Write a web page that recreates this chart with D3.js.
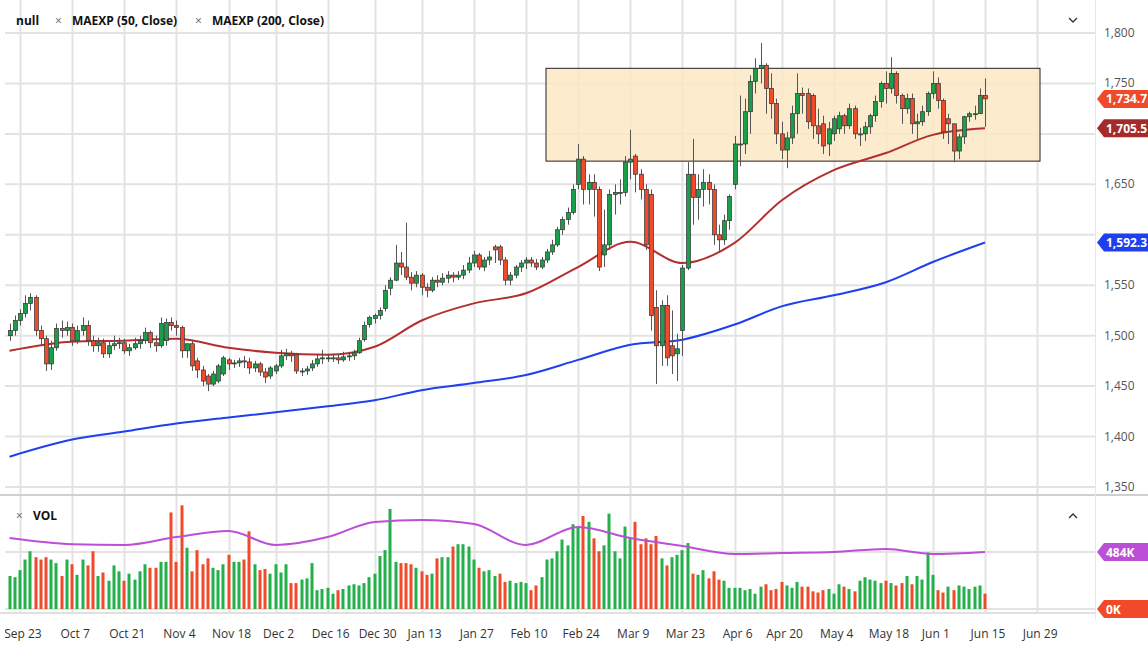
<!DOCTYPE html>
<html><head><meta charset="utf-8">
<script src="https://cdn.jsdelivr.net/npm/d3@7"></script>
<style>body{margin:0;background:#fff;font-family:"Open Sans",sans-serif}</style>
</head><body><svg id="c" width="1148" height="649"></svg>
<script>
const opens=[1500,1505, 1515,1522,1532,1538,1505, 1497,1472,1488,1507,1505, 1508,1495,1505,1510,1495, 1490,1493,1482,1490,1492, 1493,1485,1488,1492,1495, 1503,1493,1490,1495,1513, 1510,1508,1485,1492,1475, 1466,1460,1452,1455,1462, 1476,1472,1473,1475,1474, 1468,1472,1464,1460, 1465,1470,1480,1482,1481, 1464,1465,1468,1472,1477, 1478,1478,1478,1476,1479, 1480,1483,1496,1511, 1517,1520,1527,1547, 1555,1572,1568,1558,1552, 1560,1548,1545,1555,1553, 1557,1560,1558,1560,1565, 1572,1580,1568,1575,1588, 1588,1575,1555,1560,1568, 1572,1575,1572,1568,1575, 1583,1590,1605,1615,1622, 1650,1675,1645,1652,1645, 1580,1590,1640,1642,1642, 1672,1678,1660,1645,1640, 1528,1490,1530,1490,1482, 1505,1567,1660,1637,1645, 1652,1645,1600,1595,1614, 1650,1690,1690,1722, 1752,1765,1768,1745,1730, 1700,1684,1696,1720,1740, 1740,1738,1708,1710,1690, 1700,1705,1718,1708,1725, 1700,1700,1707,1718,1732, 1750,1745,1760,1738,1725, 1735,1710,1712,1722, 1740,1750,1733,1715,1710, 1683,1697,1717,1720,1720, 1738];
const closes=[1505,1515, 1522,1532,1538,1505,1497, 1472,1488,1507,1505,1508, 1495,1505,1510,1495,1490, 1493,1482,1490,1492,1493, 1485,1488,1492,1495,1503, 1493,1490,1512,1513,1510, 1508,1485,1492,1470,1466, 1455,1452,1462,1470,1478, 1472,1473,1475,1474,1468, 1472,1464,1459,1468, 1470,1480,1482,1480,1465, 1465,1467,1472,1477,1478, 1478,1478,1476,1479,1480, 1483,1495,1510,1518, 1520,1525,1545,1555, 1572,1568,1558,1552,1560, 1548,1545,1555,1553,1557, 1560,1558,1560,1565,1572, 1580,1568,1575,1578,1585, 1575,1555,1560,1568,1572, 1575,1572,1568,1575,1583, 1590,1605,1615,1622,1645, 1675,1645,1652,1645,1568, 1590,1640,1642,1642,1672, 1675,1660,1645,1590,1520, 1490,1530,1478,1480,1487, 1567,1660,1637,1645,1652, 1645,1600,1595,1614,1638, 1690,1690,1722,1752, 1765,1768,1745,1730,1700, 1684,1696,1720,1740,1738, 1712,1708,1700,1688,1705, 1715,1718,1708,1725,1700, 1700,1707,1718,1732,1750, 1745,1760,1738,1725,1735, 1710,1712,1722,1740, 1750,1733,1702,1710,1683, 1697,1717,1720,1720,1738, 1734.7];
const highs=[1512,1520, 1526,1540,1542,1540,1510, 1500,1495,1512,1515,1514, 1512,1510,1518,1515,1500, 1498,1497,1495,1500,1498, 1497,1492,1498,1500,1508, 1505,1500,1518,1517,1518, 1515,1510,1492,1495,1478, 1470,1462,1465,1472,1480, 1478,1476,1478,1480,1478, 1475,1474,1468,1470, 1472,1486,1487,1485,1483, 1468,1470,1476,1482,1486, 1482,1482,1482,1484,1484, 1486,1498,1514,1520, 1522,1528,1550,1558, 1590,1583,1612,1563,1564, 1562,1552,1558,1560,1562, 1564,1563,1564,1570,1578, 1584,1582,1578,1584,1590, 1590,1578,1563,1570,1575, 1578,1578,1576,1578,1586, 1595,1608,1618,1627,1650, 1690,1678,1660,1660,1648, 1625,1645,1650,1655,1678, 1704,1680,1665,1650,1645, 1545,1535,1540,1525,1502, 1570,1672,1695,1660,1665, 1660,1650,1610,1620,1640, 1698,1738,1735,1758, 1775,1790,1770,1760,1735, 1712,1702,1728,1760,1746, 1745,1740,1725,1718,1712, 1718,1722,1720,1730,1728, 1706,1712,1720,1738,1752, 1762,1776,1762,1740,1740, 1740,1720,1728,1742, 1762,1756,1735,1720,1710, 1700,1718,1722,1728,1745, 1755];
const lows=[1495,1500, 1510,1518,1525,1500,1490, 1465,1466,1485,1498,1500, 1490,1492,1500,1490,1484, 1484,1478,1478,1486,1487, 1482,1480,1486,1487,1492, 1488,1484,1488,1490,1505, 1500,1478,1478,1465,1458, 1450,1445,1450,1453,1460, 1466,1468,1469,1468,1462, 1464,1460,1453,1457, 1462,1468,1476,1474,1462, 1460,1461,1465,1469,1472, 1474,1474,1472,1474,1475, 1476,1482,1494,1508, 1512,1516,1524,1540, 1554,1560,1555,1545,1548, 1540,1538,1543,1548,1550, 1552,1553,1555,1556,1562, 1568,1565,1564,1570,1572, 1570,1550,1550,1557,1563, 1566,1568,1565,1566,1572, 1580,1588,1600,1610,1620, 1645,1630,1630,1618,1564, 1568,1585,1620,1630,1638, 1655,1642,1635,1585,1505, 1452,1470,1470,1462,1455, 1480,1565,1610,1615,1628, 1630,1590,1582,1590,1605, 1645,1668,1680,1700, 1740,1750,1720,1715,1690, 1675,1666,1690,1700,1720, 1705,1695,1690,1680,1678, 1693,1700,1700,1705,1695, 1688,1693,1700,1712,1726, 1730,1740,1730,1710,1720, 1700,1695,1708,1718, 1735,1725,1695,1690,1672, 1675,1690,1712,1714,1720, 1707];
const volumes=[280,270, 330,420,490,440,420, 440,420,390,280,420, 380,290,420,370,490, 280,310,240,370,320, 240,300,250,320,380, 350,350,400,400,820, 400,880,520,320,500, 380,430,350,330,380, 460,400,400,420,660, 380,330,340,300, 380,310,380,220,220, 250,260,390,160,170, 180,130,160,170,200, 210,200,220,270, 300,450,500,850, 400,390,390,380,350, 320,290,300,430,440, 440,530,550,550,530, 420,350,320,330,280, 300,230,240,220,230, 220,160,200,270,420, 430,490,590,540,720, 700,790,740,600,490, 540,810,490,430,700, 610,740,550,600,550, 620,430,370,440,460, 500,560,300,290,330, 260,320,250,240,180, 180,180,160,170, 130,190,210,160,170, 230,200,180,230,190, 190,150,140,160,170, 130,210,190,170,150, 240,270,250,240,220, 240,220,200,220,280, 210,280,250,480, 290,160,140,190,160, 200,190,170,190,200, 130];
const holidays=["2019-11-28","2019-12-25","2020-01-01","2020-04-10","2020-05-25"];
const tickLabels=["Sep 23","Oct 7","Oct 21","Nov 4","Nov 18","Dec 2","Dec 16","Dec 30","Jan 13","Jan 27","Feb 10","Feb 24","Mar 9","Mar 23","Apr 6","Apr 20","May 4","May 18","Jun 1","Jun 15","Jun 29"];
const tickDates=["2019-09-23","2019-10-07","2019-10-21","2019-11-04","2019-11-18","2019-12-02","2019-12-16","2019-12-30","2020-01-13","2020-01-27","2020-02-10","2020-02-24","2020-03-09","2020-03-23","2020-04-06","2020-04-20","2020-05-04","2020-05-18","2020-06-01","2020-06-15","2020-06-29"];
const maDates=["2019-09-19","2019-10-07","2019-10-21","2019-11-04","2019-11-18","2019-12-02","2019-12-16","2019-12-30","2020-01-13","2020-01-27","2020-02-10","2020-02-24","2020-03-09","2020-03-23","2020-04-06","2020-04-20","2020-05-04","2020-05-18","2020-06-01","2020-06-15"];
const ma50=[1485,1494,1495,1497,1488,1483,1481,1489,1515,1532,1542,1568,1593,1572,1592,1634,1664,1681,1699,1705.5];
const ma200=[1380,1397,1405,1413,1419,1424,1430,1436,1446,1453,1461,1476,1491,1496,1511,1529,1540,1553,1573,1592.3];
const volMA=[603,550,543,611,662,544,611,739,756,722,544,696,603,535,467,475,484,509,467,484];
const priceTicks=[1350,1400,1450,1500,1550,1600,1650,1700,1750,1800];

const days=[];
for(let d=new Date(Date.UTC(2019,8,19)); d<=new Date(Date.UTC(2020,5,15)); d.setUTCDate(d.getUTCDate()+1)){
  const w=d.getUTCDay(), s=d.toISOString().slice(0,10);
  if(w>0&&w<6&&!holidays.includes(s)) days.push(s);
}
const N=closes.length;
const dayIdx=s=>{
  const i=days.indexOf(s); if(i>=0) return i;
  const last=new Date(days[days.length-1]+"T00:00:00Z"), t=new Date(s+"T00:00:00Z");
  let n=0; for(let d=new Date(last); d<t; d.setUTCDate(d.getUTCDate()+1)){const w=d.getUTCDay(); if(w>0&&w<6) n++;}
  return days.length-1+n;
};
const svg=d3.select("#c");
const x=d3.scaleLinear().domain([0,N-1]).range([9.5,985]);
const y=d3.scaleLinear().domain([1350,1800]).range([487,33]);
const yv=d3.scaleLinear().domain([0,484]).range([609,552]);
const green="#1b9e49", red="#ef4b2b";

svg.append("clipPath").attr("id","cl").append("rect").attr("x",5).attr("y",0).attr("width",1090).attr("height",649);
const g=svg.append("g").attr("clip-path","url(#cl)");
tickDates.forEach(t=>{const xx=Math.round(x(dayIdx(t)))+0.5;
  g.append("line").attr("x1",xx).attr("x2",xx).attr("y1",0).attr("y2",612).attr("stroke","#e3e3e3").attr("stroke-width",2);});
priceTicks.forEach(p=>g.append("line").attr("x1",0).attr("x2",1095).attr("y1",y(p)).attr("y2",y(p)).attr("stroke","#e3e3e3").attr("stroke-width",2));
[552,609].forEach(v=>g.append("line").attr("x1",0).attr("x2",1095).attr("y1",v).attr("y2",v).attr("stroke","#e3e3e3").attr("stroke-width",2));
svg.append("line").attr("x1",0).attr("x2",1148).attr("y1",495).attr("y2",495).attr("stroke","#d0d0d0").attr("stroke-width",2);
svg.append("line").attr("x1",0).attr("x2",1095).attr("y1",613).attr("y2",613).attr("stroke","#e0e0e0").attr("stroke-width",2);
svg.append("line").attr("x1",1095.5).attr("x2",1095.5).attr("y1",0).attr("y2",620).attr("stroke","#e6e6e6");

g.append("rect").attr("x",546).attr("width",494).attr("y",y(1765)).attr("height",y(1673)-y(1765))
 .attr("fill","#fde8c4").attr("fill-opacity",0.85).attr("stroke","#222").attr("stroke-width",1);

const line=d3.line().curve(d3.curveMonotoneX);
g.append("path").attr("d",line(maDates.map((d,i)=>[x(dayIdx(d)),y(ma200[i])]))).attr("fill","none").attr("stroke","#1f3ff0").attr("stroke-width",2);
g.append("path").attr("d",line(maDates.map((d,i)=>[x(dayIdx(d)),y(ma50[i])]))).attr("fill","none").attr("stroke","#b32f2f").attr("stroke-width",2);

const bw=4;
for(let i=0;i<N;i++){
  const up=closes[i]>=opens[i], cx=Math.round(x(i))+0.5;
  g.append("line").attr("x1",cx).attr("x2",cx).attr("y1",y(highs[i])).attr("y2",y(lows[i])).attr("stroke","#555");
  const t=y(Math.max(opens[i],closes[i])), b=y(Math.min(opens[i],closes[i]));
  g.append("rect").attr("x",cx-bw/2).attr("width",bw).attr("y",t).attr("height",Math.max(1,b-t))
   .attr("fill",up?green:red).attr("stroke","#333").attr("stroke-width",0.7);
}
for(let i=0;i<N;i++){
  const up=i==0?true:closes[i]>=closes[i-1];
  g.append("rect").attr("x",Math.round(x(i))-1.5).attr("width",3).attr("y",yv(volumes[i])).attr("height",609-yv(volumes[i])).attr("fill",up?"#22b04b":"#f04a2a");
}
g.append("path").attr("d",line(maDates.map((d,i)=>[x(dayIdx(d)),yv(volMA[i])]))).attr("fill","none").attr("stroke","#bb4fd6").attr("stroke-width",2);

tickDates.forEach((t,i)=>g.append("text").attr("x",x(dayIdx(t))+3).attr("y",638).attr("text-anchor","middle").attr("font-size",12).attr("fill","#333").text(tickLabels[i]));

const badges=[[y(closes[N-1]),"1,734.7","#f04a2a"],[y(ma50[ma50.length-1]),"1,705.5","#a52b2b"],[y(ma200[ma200.length-1]),"1,592.3","#1f3ff0"],[yv(484),"484K","#bb4fd6"],[yv(0),"0K","#f04a2a"]];
priceTicks.forEach(p=>{
  if(badges.some(b=>Math.abs(b[0]-y(p))<14)) return;
  svg.append("text").attr("x",1104).attr("y",y(p)+4).attr("font-size",12).attr("fill","#555").text(d3.format(",")(p));
});
badges.forEach(([yy,txt,col])=>{
  svg.append("path").attr("d",`M1097,${yy} L1104,${yy-9} L1148,${yy-9} L1148,${yy+9} L1104,${yy+9} Z`).attr("fill",col);
  svg.append("text").attr("x",1106).attr("y",yy+4.5).attr("font-size",12).attr("font-weight","bold").attr("fill","#fff").text(txt);
});

svg.append("text").attr("x",16).attr("y",25).attr("font-size",12).attr("font-weight","bold").attr("fill","#111").text("null");
[["MAEXP (50, Close)",72],["MAEXP (200, Close)",212]].forEach(([t,xx])=>{
  svg.append("text").attr("x",xx-17).attr("y",25).attr("font-size",12).attr("fill","#666").text("×");
  svg.append("text").attr("x",xx).attr("y",25).attr("font-size",12).attr("font-weight","bold").attr("fill","#111").text(t);
});
svg.append("text").attr("x",16).attr("y",520).attr("font-size",12).attr("fill","#666").text("×");
svg.append("text").attr("x",33).attr("y",520).attr("font-size",12).attr("font-weight","bold").attr("fill","#111").text("VOL");
svg.append("path").attr("d","M1069,18 L1073,22 L1077,18").attr("fill","none").attr("stroke","#333").attr("stroke-width",1.3);
svg.append("path").attr("d","M1069,518 L1073,514 L1077,518").attr("fill","none").attr("stroke","#333").attr("stroke-width",1.3);
</script></body></html>
